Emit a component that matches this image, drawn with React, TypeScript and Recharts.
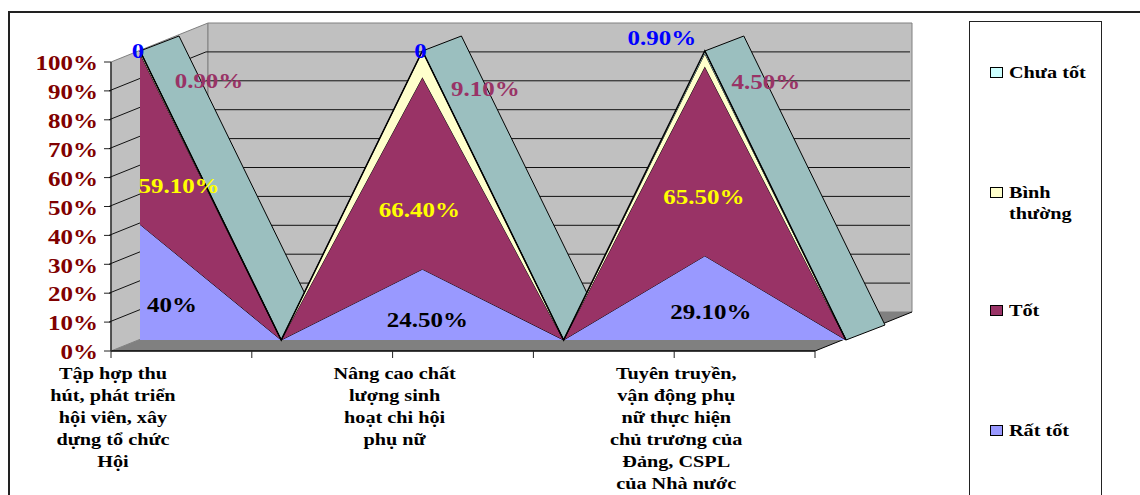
import React from "react";
import { AreaChart, Area, Line, LineChart, XAxis, YAxis, ReferenceLine } from "recharts";

const categoryLines: string[][] = [
  ["Tập hợp thu", "hút, phát triển", "hội viên, xây", "dựng tổ chức", "Hội"],
  [],
  ["Nâng cao chất", "lượng sinh", "hoạt chi hội", "phụ nữ"],
  [],
  ["Tuyên truyền,", "vận động phụ", "nữ thực hiện", "chủ trương của", "Đảng, CSPL", "của Nhà nước"],
  [],
];
const ratTot = [40, 0, 24.5, 0, 29.1, 0];
const tot = [59.1, 0, 66.4, 0, 65.5, 0];
const binhThuong = [0.9, 0, 9.1, 0, 4.5, 0];
const chuaTot = [0, 0, 0, 0, 0.9, 0];
const yTicks = [0, 10, 20, 30, 40, 50, 60, 70, 80, 90, 100];

const data = categoryLines.map((lines, i) => ({
  category: lines.join("\n"),
  ratTot: ratTot[i],
  tot: tot[i],
  binhThuong: binhThuong[i],
  chuaTot: chuaTot[i],
  total: ratTot[i] + tot[i] + binhThuong[i] + chuaTot[i],
  floor: 0,
}));

const SERIF = "'Liberation Serif', 'Times New Roman', serif";
const W = 1140;
const H = 495;
const WALL_DX = 97;
const WALL_DY = 39;
const RIBBON_DX = 39;
const RIBBON_DY = 15;
const STRETCH = 1.19;
const frontMargin = { top: 62, right: 325, bottom: 0, left: 0 };
const seriesMargin = { top: 51, right: 294, bottom: 155, left: 140 };

const formatValue = (v: number) =>
  v === 0 ? "0" : Number.isInteger(v) ? `${v}%` : `${v.toFixed(2)}%`;

// label placement relative to the top of each stacked band, per labelled category
const offsets: Record<string, [number, number][]> = {
  ratTot: [[32, 80], [5, 51], [6, 56]],
  tot: [[39, 132], [-3, 132], [-1, 130]],
  binhThuong: [[69, 30], [63, 38], [61, 28]],
  chuaTot: [[-2, 0], [-2, 0], [-43, -13]],
};

const bandLabel = (key: string, values: number[], color: string) => (p: any) => {
  if (p.index % 2 !== 0) return <g key={`${key}-${p.index}`} />;
  const [dx, dy] = offsets[key][p.index / 2];
  return (
    <text
      key={`${key}-${p.index}`}
      transform={`translate(${p.x + dx} ${p.y + dy}) scale(${STRETCH} 1)`}
      textAnchor="middle"
      dominantBaseline="central"
      fontFamily={SERIF}
      fontWeight="bold"
      fontSize={21}
      fill={color}
    >
      {formatValue(values[p.index])}
    </text>
  );
};

// Room behind the plot, built from the front floor edge of the axes
const Room = (p: any) => {
  if (p.index !== 0) return <g key="room-empty" />;
  const a = p.points[0];
  const b = p.points[p.points.length - 1];
  const h = a.y - frontMargin.top;
  const pts = (l: number[][]) => l.map((q) => q.join(",")).join(" ");
  return (
    <g key="room">
      <polygon
        points={pts([[a.x, a.y - h], [a.x + WALL_DX, a.y - h - WALL_DY], [a.x + WALL_DX, a.y - WALL_DY], [a.x, a.y]])}
        fill="#c0c0c0"
        stroke="#808080"
      />
      <polygon
        points={pts([[a.x + WALL_DX, a.y - h - WALL_DY], [b.x + WALL_DX, a.y - h - WALL_DY], [b.x + WALL_DX, a.y - WALL_DY], [a.x + WALL_DX, a.y - WALL_DY]])}
        fill="#c0c0c0"
        stroke="#808080"
      />
      <polygon
        points={pts([[a.x, a.y], [a.x + WALL_DX, a.y - WALL_DY], [b.x + WALL_DX, a.y - WALL_DY], [b.x, b.y]])}
        fill="#808080"
        stroke="none"
      />
      <line x1={b.x} y1={b.y} x2={b.x + WALL_DX} y2={b.y - WALL_DY} stroke="#000" />
    </g>
  );
};

const YTick = (p: any) => {
  const v = p.payload.value;
  const x0 = p.x + 7;
  return (
    <g>
      {v > 0 && v < 100 && (
        <polyline
          points={`${x0},${p.y} ${x0 + WALL_DX},${p.y - WALL_DY} ${x0 + WALL_DX + 704},${p.y - WALL_DY}`}
          fill="none"
          stroke="#111"
        />
      )}
      <text
        transform={`translate(${p.x - 4} ${p.y + 1}) scale(${STRETCH} 1)`}
        textAnchor="end"
        dominantBaseline="central"
        fontFamily={SERIF}
        fontWeight="bold"
        fontSize={21}
        fill="#800000"
      >
        {v}%
      </text>
    </g>
  );
};

const XTick = (p: any) => {
  const lines = String(p.payload.value).split("\n").filter(Boolean);
  return (
    <text
      transform={`translate(${p.x + 2} 0) scale(${STRETCH} 1)`}
      textAnchor="middle"
      fontFamily={SERIF}
      fontWeight="bold"
      fontSize={17}
      fill="#000"
    >
      {lines.map((l, i) => (
        <tspan key={i} x={0} y={p.y + 19 + i * 22}>
          {l}
        </tspan>
      ))}
    </text>
  );
};

// Top surface of the stack: one shaded strip behind every falling edge
const Ribbon = (p: any) => {
  const a = p.points[p.index];
  const b = p.points[p.index + 1];
  if (!b || b.y <= a.y) return <g key={`r-${p.index}`} />;
  const pts = [
    [a.x, a.y],
    [a.x + RIBBON_DX, a.y - RIBBON_DY],
    [b.x + RIBBON_DX, b.y - RIBBON_DY],
    [b.x, b.y],
  ];
  return (
    <polygon
      key={`r-${p.index}`}
      points={pts.map((q) => q.join(",")).join(" ")}
      fill="#9bbfbf"
      stroke="#000"
      strokeWidth={1}
    />
  );
};

const legendItems = [
  { name: ["Chưa tốt"], color: "#ccffff" },
  { name: ["Bình", "thường"], color: "#ffffcc" },
  { name: ["Tốt"], color: "#993366" },
  { name: ["Rất tốt"], color: "#9999ff" },
];

const LegendBox = () => (
  <div style={{ position: "absolute", inset: 0, border: "1.5px solid #222", boxSizing: "border-box", fontFamily: SERIF, fontWeight: "bold", fontSize: 17, color: "#000", background: "#fff" }}>
    {legendItems.map((it, i) => (
      <div key={i} style={{ position: "absolute", left: 20, top: [40, 160, 278, 398][i], display: "flex", alignItems: "flex-start" }}>
        <span style={{ width: 11, height: 9, border: "1px solid #000", background: it.color, display: "inline-block", marginTop: 5, marginRight: 6, flex: "none" }} />
        <span style={{ lineHeight: "21px", whiteSpace: "nowrap", transform: `scaleX(${STRETCH})`, transformOrigin: "left top" }}>
          {it.name.map((n) => (
            <div key={n}>{n}</div>
          ))}
        </span>
      </div>
    ))}
  </div>
);

const layer: React.CSSProperties = { position: "absolute", left: 0, top: 0 };

export default function App() {
  return (
    <div style={{ position: "absolute", left: 0, top: 0, width: W, height: H, overflow: "hidden", background: "#fff" }}>
      <div style={{ position: "absolute", left: 8, top: 11, width: W, height: H, borderLeft: "2px solid #222", borderTop: "2px solid #222", boxSizing: "border-box" }} />

      <div style={layer}>
        <LineChart width={W} height={H} data={data} margin={{ top: 62, right: 325, bottom: 144, left: 111 }}>
          <XAxis dataKey="category" hide />
          <YAxis hide domain={[0, 100]} />
          <Line dataKey="floor" stroke="none" dot={Room} isAnimationActive={false} legendType="none" />
        </LineChart>
      </div>

      <div style={layer}>
        <LineChart width={W} height={H} data={data} margin={frontMargin}>
          <XAxis dataKey="category" height={144} interval={0} tick={XTick} tickSize={7} tickLine={{ stroke: "#222" }} axisLine={{ stroke: "#000", strokeWidth: 1.5 }} />
          <YAxis width={111} domain={[0, 100]} ticks={yTicks} interval={0} tick={YTick} tickSize={7} tickLine={{ stroke: "#222" }} axisLine={{ stroke: "#333", strokeWidth: 1.5 }} />
          <Line dataKey="floor" stroke="none" dot={false} isAnimationActive={false} legendType="none" />
        </LineChart>
      </div>

      <div style={layer}>
        <AreaChart width={W} height={H} data={data} margin={seriesMargin}>
          <XAxis dataKey="category" hide />
          <YAxis hide domain={[0, 100]} />
          <Area dataKey="total" fill="none" stroke="none" dot={Ribbon} isAnimationActive={false} legendType="none" />
        </AreaChart>
      </div>

      <div style={layer}>
        <AreaChart width={W} height={H} data={data} margin={seriesMargin}>
          <XAxis dataKey="category" hide />
          <YAxis hide domain={[0, 100]} />
          <Area dataKey="ratTot" stackId="s" fill="#9999ff" fillOpacity={1} stroke="#000" strokeWidth={1} isAnimationActive={false} dot={false} label={bandLabel("ratTot", ratTot, "#000")} />
          <Area dataKey="tot" stackId="s" fill="#993366" fillOpacity={1} stroke="#000" strokeWidth={1} isAnimationActive={false} dot={false} label={bandLabel("tot", tot, "#ffff00")} />
          <Area dataKey="binhThuong" stackId="s" fill="#ffffcc" fillOpacity={1} stroke="#000" strokeWidth={1} isAnimationActive={false} dot={false} label={bandLabel("binhThuong", binhThuong, "#993366")} />
          <Area dataKey="chuaTot" stackId="s" fill="#ccffff" fillOpacity={1} stroke="#000" strokeWidth={1.5} isAnimationActive={false} dot={false} label={bandLabel("chuaTot", chuaTot, "#0000ff")} />
          <ReferenceLine x={data[0].category} stroke="#222" strokeWidth={1.5} />
        </AreaChart>
      </div>

      <div style={{ position: "absolute", left: 969, top: 21, width: 133, height: 490 }}>
        <LegendBox />
      </div>
    </div>
  );
}
